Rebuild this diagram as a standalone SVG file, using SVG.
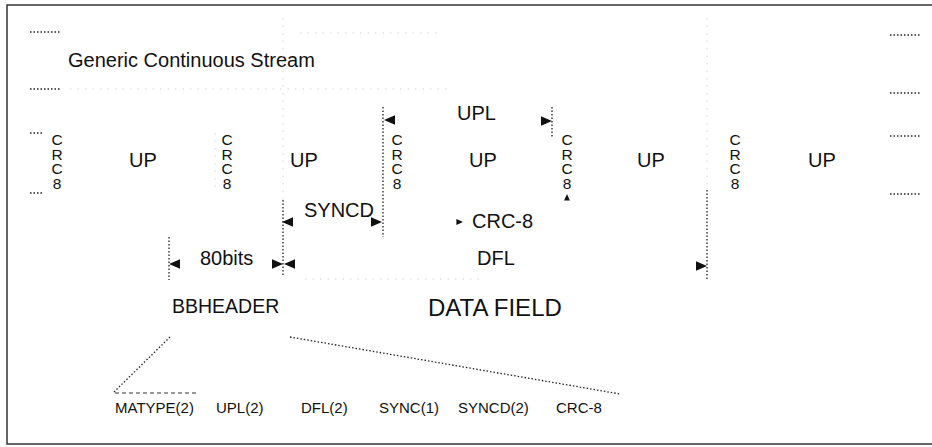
<svg xmlns="http://www.w3.org/2000/svg" width="932" height="447" viewBox="0 0 932 447">
<style>
text{font-family:"Liberation Sans",Arial,sans-serif;fill:#111}
.t{font-size:20px}
.s{font-size:15px}
.crc{font-size:15.5px;letter-spacing:-2.5px;writing-mode:vertical-rl;text-orientation:upright}
.dot{stroke:#222;stroke-width:1.3;stroke-dasharray:1.5 2;fill:none}
.dash{stroke:#333;stroke-width:1;stroke-dasharray:4 3;fill:none}
.faint{stroke:#d4d4d4;stroke-width:1;stroke-dasharray:1.5 6;fill:none}
.ah{fill:#111}
</style>
<defs>
<path id="ah" d="M0,0 L-11,-4.8 L-11,4.8 Z"/>
</defs>
<rect x="7" y="5" width="940" height="439" fill="#fff" stroke="#333" stroke-width="1.5"/>

<g id="stream">
<text class="t" x="68" y="67">Generic Continuous Stream</text>
<g class="dot">
<line x1="30" y1="32" x2="60" y2="32"/><line x1="30" y1="89" x2="60" y2="89"/>
<line x1="30" y1="133" x2="42" y2="133"/><line x1="30" y1="193" x2="42" y2="193"/>
<line x1="890" y1="35" x2="920" y2="35"/><line x1="890" y1="93" x2="920" y2="93"/>
<line x1="890" y1="136" x2="920" y2="136"/><line x1="890" y1="194" x2="920" y2="194"/>
</g>
</g>

<g id="crc1"><text class="crc" x="57" y="131">CRC8</text></g>
<g id="up1"><text class="t" x="129" y="167">UP</text></g>
<g id="crc2"><text class="crc" x="227" y="131">CRC8</text></g>
<g id="up2"><text class="t" x="290" y="167">UP</text></g>
<g id="crc3"><text class="crc" x="397" y="131">CRC8</text></g>
<g id="up3"><text class="t" x="469" y="167">UP</text></g>
<g id="crc4"><text class="crc" x="567" y="131">CRC8</text></g>
<g id="up4"><text class="t" x="637" y="167">UP</text></g>
<g id="crc5"><text class="crc" x="735" y="131">CRC8</text></g>
<g id="up5"><text class="t" x="808" y="167">UP</text></g>

<g id="labels">
<text class="t" x="457" y="120">UPL</text>
<text class="t" x="304" y="217">SYNCD</text>
<text class="t" x="472" y="228">CRC-8</text>
<text class="t" x="200" y="265">80bits</text>
<text class="t" x="477" y="265">DFL</text>
</g>
<g id="bbheader"><text x="172" y="313" style="font-size:19.5px">BBHEADER</text></g>
<g id="datafield"><text x="428" y="316" style="font-size:24px">DATA FIELD</text></g>

<g id="fields">
<text class="s" x="115" y="413">MATYPE(2)</text>
<text class="s" x="216" y="413">UPL(2)</text>
<text class="s" x="301" y="413">DFL(2)</text>
<text class="s" x="379" y="413">SYNC(1)</text>
<text class="s" x="458" y="413">SYNCD(2)</text>
<text class="s" x="556" y="413">CRC-8</text>
</g>

<g id="connectors">
<g class="faint">
<line x1="283" y1="18" x2="283" y2="200"/>
<line x1="707" y1="18" x2="707" y2="190"/>
<line x1="215" y1="133" x2="215" y2="190"/>
<line x1="300" y1="33" x2="440" y2="33"/>
<line x1="70" y1="89" x2="450" y2="89"/>
<line x1="305" y1="279" x2="480" y2="279"/>
</g>
<g class="dot">
<line x1="283" y1="200" x2="283" y2="276"/>
<line x1="383" y1="107" x2="383" y2="237"/>
<line x1="552" y1="107" x2="552" y2="137"/>
<line x1="169" y1="237" x2="169" y2="280"/>
<line x1="707" y1="190" x2="707" y2="280"/>
<line x1="170" y1="337" x2="113" y2="393"/>
<line x1="290" y1="337" x2="620" y2="394"/>
</g>
<line class="dash" x1="115" y1="393" x2="196" y2="393"/>
<g class="ah">
<use href="#ah" transform="translate(384,120) rotate(180)"/>
<use href="#ah" transform="translate(552,121)"/>
<use href="#ah" transform="translate(282,222) rotate(180)"/>
<use href="#ah" transform="translate(382,222)"/>
<use href="#ah" transform="translate(463,222) scale(0.6)"/>
<use href="#ah" transform="translate(567,194) rotate(-90) scale(0.6)"/>
<use href="#ah" transform="translate(169,264) rotate(180)"/>
<use href="#ah" transform="translate(283,264)"/>
<use href="#ah" transform="translate(284,264) rotate(180)"/>
<use href="#ah" transform="translate(707,266)"/>
</g>
</g>
</svg>
